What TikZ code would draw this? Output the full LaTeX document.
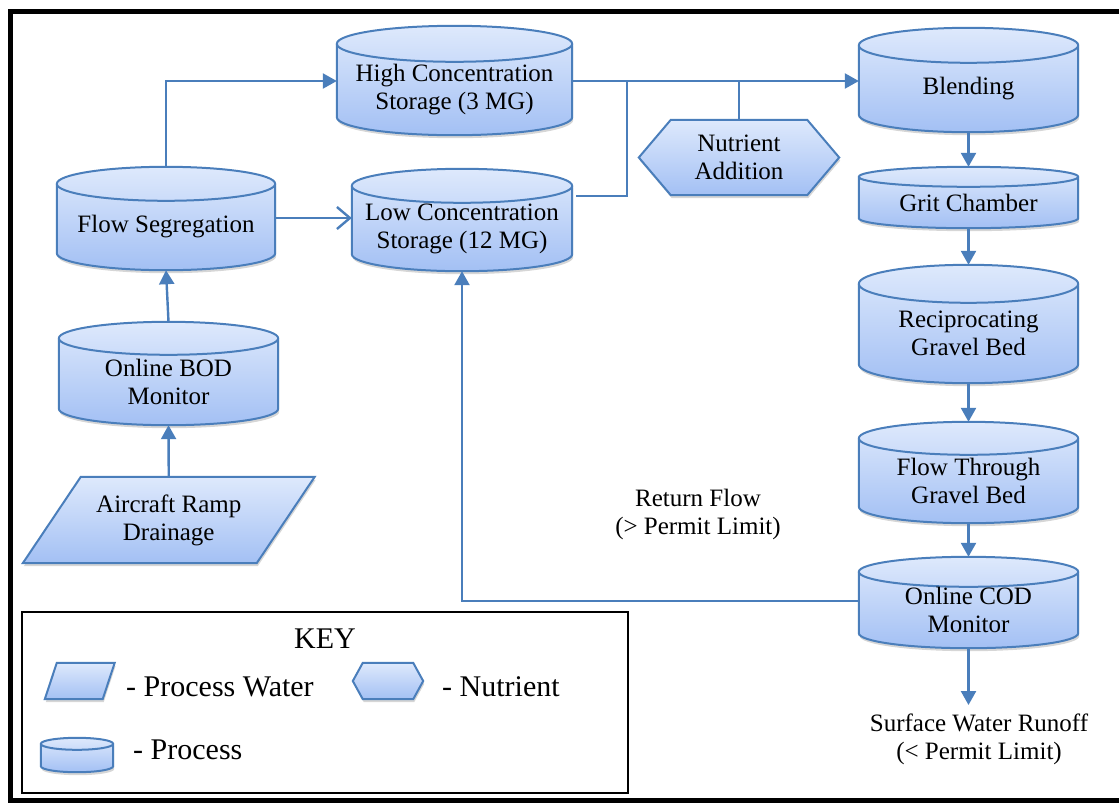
\documentclass[tikz,border=0pt]{standalone}
\usepackage{fontspec}
\setmainfont{Liberation Serif}
\usetikzlibrary{arrows.meta,calc}
\pgfdeclarelayer{background}
\pgfsetlayers{background,main}

\definecolor{edge}{RGB}{74,126,187}
\definecolor{filltop}{RGB}{222,233,252}
\definecolor{fillbot}{RGB}{163,192,244}

\tikzset{
  x=1pt, y=1pt,
  box/.style={inner sep=0pt, align=center, font=\fontsize{25}{28}\selectfont},
  keyfont/.style={inner sep=0pt, font=\fontsize{30}{34}\selectfont},
  shapefill/.style={draw=edge, line width=2pt, top color=filltop, bottom color=fillbot},
  shadowfill/.style={fill=black, opacity=0.16, transform canvas={xshift=1pt,yshift=-3pt}},
  conn/.style={draw=edge, line width=2.4pt},
  flowtip/.tip={Triangle[length=14pt,width=15pt]},
  opentip/.tip={Straight Barb[length=13pt,width=22pt]},
}

% outline of a process drum: node spans from the centre line of the lid to the base
\newcommand\drumpath[2]{let \p1=(#1.north west), \p2=(#1.south east), \n1={0.5*\x2-0.5*\x1} in
  (\x1,\y1) -- (\x1,\y2+#2pt) arc[start angle=180,end angle=360,x radius=\n1,y radius=#2pt]
  -- (\x2,\y1) arc[start angle=0,end angle=180,x radius=\n1,y radius=#2pt] -- cycle}
\newcommand\drawdrum[2]{%
  \begin{pgfonlayer}{background}
    \path[shadowfill] \drumpath{#1}{#2};
    \path[shapefill] \drumpath{#1}{#2};
    \draw[draw=edge, line width=2pt] let \p1=(#1.north west), \p2=(#1.north east), \n1={0.5*\x2-0.5*\x1} in
      (\x1,\y1) arc[start angle=180,end angle=360,x radius=\n1,y radius=#2pt];
  \end{pgfonlayer}}
% slanted input block
\newcommand\slantpath[2]{([xshift=#2pt]#1.north west) -- ([xshift=#2pt]#1.north east)
  -- ([xshift=-#2pt]#1.south east) -- ([xshift=-#2pt]#1.south west) -- cycle}
\newcommand\drawslant[2]{%
  \begin{pgfonlayer}{background}
    \path[shadowfill] \slantpath{#1}{#2};
    \path[shapefill] \slantpath{#1}{#2};
  \end{pgfonlayer}}
% hexagonal nutrient block
\newcommand\hexpath[2]{(#1.west) -- ([xshift=#2pt]#1.north west) -- ([xshift=-#2pt]#1.north east)
  -- (#1.east) -- ([xshift=-#2pt]#1.south east) -- ([xshift=#2pt]#1.south west) -- cycle}
\newcommand\drawhex[2]{%
  \begin{pgfonlayer}{background}
    \path[shadowfill] \hexpath{#1}{#2};
    \path[shapefill] \hexpath{#1}{#2};
  \end{pgfonlayer}}

\begin{document}
\begin{tikzpicture}
\useasboundingbox (0,0) rectangle (1119,-804);

% frame
\draw[line width=4.5pt] (10.5,-11.5) rectangle (1126,-800.5);

% process units
\node[box, minimum width=235pt, minimum height=91pt]   (hcs)   at (454.5,-89.5)  {High Concentration\\Storage (3 MG)};
\node[box, minimum width=220pt, minimum height=85pt]   (lcs)   at (462,-228.5)   {Low Concentration\\Storage (12 MG)};
\node[box, minimum width=218pt, minimum height=86pt]   (fseg)  at (166,-227)     {Flow Segregation};
\node[box, minimum width=219pt, minimum height=86.5pt] (bod)   at (168.5,-381.75) {Online BOD\\Monitor};
\node[box, minimum width=233.5pt, minimum height=86pt] (air)   at (168.75,-520)  {Aircraft Ramp\\Drainage};
\node[box, minimum width=200pt, minimum height=75pt]   (nutr)  at (739,-157.5)   {Nutrient\\Addition};
\node[box, minimum width=219pt, minimum height=86.5pt] (blend) at (968.5,-88.75) {Blending};
\node[box, minimum width=219pt, minimum height=51pt]   (grit)  at (968.5,-202.5) {Grit Chamber};
\node[box, minimum width=219pt, minimum height=99pt]   (recip) at (968.5,-333.5) {Reciprocating\\Gravel Bed};
\node[box, minimum width=219pt, minimum height=84.5pt] (ftgb)  at (968.5,-480.75) {Flow Through\\Gravel Bed};
\node[box, minimum width=219pt, minimum height=76pt]   (cod)   at (968.5,-610)   {Online COD\\Monitor};

\drawdrum{hcs}{18}
\drawdrum{lcs}{17}
\drawdrum{fseg}{17}
\drawdrum{bod}{16.5}
\drawdrum{blend}{17.5}
\drawdrum{grit}{10}
\drawdrum{recip}{19}
\drawdrum{ftgb}{16.5}
\drawdrum{cod}{15}
\drawslant{air}{29}
\drawhex{nutr}{32}

% labels
\node[box] (ret)    at (698,-514) {Return Flow\\(> Permit Limit)};
\node[box] (runoff) at (979,-739) {Surface Water Runoff\\(< Permit Limit)};
\coordinate (outlet) at (968.5,-705);
\coordinate (bus) at (0,-81);
\coordinate (junc) at (627,-81);

% connectors
\draw[conn,-flowtip] (air.north) -- (bod.south);
\draw[conn,-flowtip] ([yshift=16.5pt]bod.north) -- (fseg.south);
\draw[conn,-flowtip] ([yshift=17pt]fseg.north) |- (hcs.west |- bus);
\draw[conn,-opentip] ([yshift=9pt]fseg.east) -- ([yshift=9pt]fseg.east -| lcs.west);
\draw[conn,-flowtip] (hcs.east |- bus) -- (blend.west |- bus);
\draw[conn] ([xshift=4pt,yshift=32.5pt]lcs.east) -| (junc);
\draw[conn] (nutr.north) -- (nutr.north |- bus);
\draw[conn,-flowtip] (blend.south) -- ([yshift=10pt]grit.north);
\draw[conn,-flowtip] (grit.south) -- ([yshift=19pt]recip.north);
\draw[conn,-flowtip] (recip.south) -- ([yshift=16.5pt]ftgb.north);
\draw[conn,-flowtip] (ftgb.south) -- ([yshift=15pt]cod.north);
\draw[conn,-flowtip] (cod.south) -- (outlet);
\draw[conn,-flowtip] ([yshift=9pt]cod.west) -| (lcs.south);

% key
\node[draw=black, line width=1.6pt, minimum width=606pt, minimum height=181pt, inner sep=0pt] (keybox) at (325,-702.5) {};
\node[keyfont, anchor=base] (keytitle) at (325,-648) {KEY};
\node[inner sep=0pt, minimum width=57.5pt, minimum height=36pt] (kwater) at (79.75,-681) {};
\node[inner sep=0pt, minimum width=70pt, minimum height=36pt] (knutr) at (388,-681) {};
\node[inner sep=0pt, minimum width=72pt, minimum height=28pt] (kproc) at (77,-758) {};
\drawslant{kwater}{6}
\drawhex{knutr}{10}
\drawdrum{kproc}{6}
\node[keyfont, anchor=base west] (kwatertext) at (126,-696) {- Process Water};
\node[keyfont, anchor=base west] (knutrtext)  at (442,-696) {- Nutrient};
\node[keyfont, anchor=base west] (kproctext)  at (133,-759) {- Process};
\end{tikzpicture}
\end{document}
